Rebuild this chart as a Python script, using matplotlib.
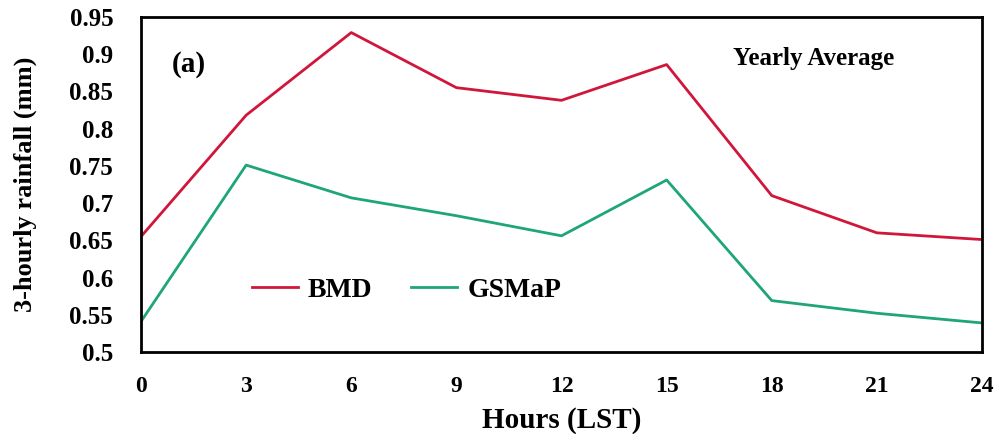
import matplotlib
matplotlib.use("Agg")
import matplotlib.pyplot as plt

hours = [0, 3, 6, 9, 12, 15, 18, 21, 24]
bmd = [0.655, 0.818, 0.929, 0.855, 0.838, 0.886, 0.710, 0.660, 0.651]
gsmap = [0.541, 0.751, 0.707, 0.683, 0.656, 0.731, 0.569, 0.552, 0.539]
yticks = [0.5, 0.55, 0.6, 0.65, 0.7, 0.75, 0.8, 0.85, 0.9, 0.95]
ytick_labels = ["0.5", "0.55", "0.6", "0.65", "0.7", "0.75", "0.8", "0.85", "0.9", "0.95"]

plt.rcParams['font.family'] = ['Liberation Serif', 'DejaVu Serif']
plt.rcParams['font.weight'] = 'bold'

fig = plt.figure(figsize=(9.98, 4.34), dpi=100)
ax = fig.add_axes([0.1413, 0.189, 0.8427, 0.772])

ax.plot(hours, bmd, color='#D0163A', lw=2.0, label='BMD')
ax.plot(hours, gsmap, color='#1FA57A', lw=2.0, label='GSMaP')

ax.set_xlim(0, 24)
ax.set_ylim(0.5, 0.95)
ax.set_xticks(hours)
ax.set_xticklabels([str(h) for h in hours])
ax.set_yticks(yticks)
ax.set_yticklabels(ytick_labels)
ax.tick_params(axis='both', length=0)
ax.tick_params(axis='x', labelsize=17, pad=17)
ax.tick_params(axis='y', labelsize=18, pad=20)
for lab in ax.get_xticklabels() + ax.get_yticklabels():
    lab.set_fontweight('bold')
for s in ax.spines.values():
    s.set_linewidth(2.0)
    s.set_color('black')

ax.set_xlabel('Hours (LST)', fontsize=21, fontweight='bold')
ax.xaxis.set_label_coords(0.5, -0.205)
ax.xaxis.label.set_va('center')
ax.set_ylabel('3-hourly rainfall (mm)', fontsize=19, fontweight='bold')
ax.yaxis.set_label_coords(-0.138, 0.5)
ax.yaxis.label.set_va('center')

ax.text(0.0369, 0.836, '(a)', transform=ax.transAxes, fontsize=21,
        fontweight='bold', va='baseline')
ax.text(0.704, 0.857, 'Yearly Average', transform=ax.transAxes, fontsize=18,
        fontweight='bold', va='baseline')

leg = ax.legend(loc='center left', bbox_to_anchor=(0.132, 0.185), ncol=2, frameon=False,
                fontsize=20, handlelength=1.65, columnspacing=1.4, handletextpad=0.36,
                borderaxespad=0, borderpad=0)
for t in leg.get_texts():
    t.set_fontweight('bold')

fig.savefig('out.png', dpi=100)
